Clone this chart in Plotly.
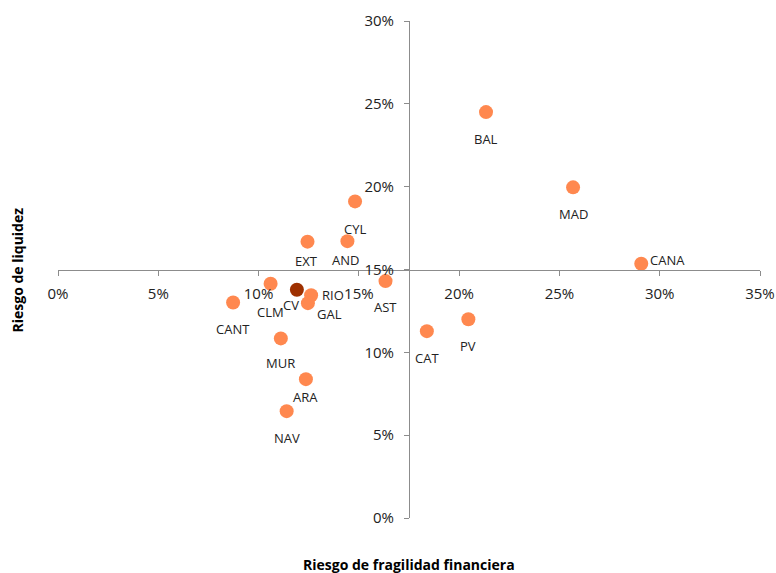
import plotly.graph_objects as go

regions = ["BAL", "MAD", "CANA", "CYL", "EXT", "AND", "AST", "CLM", "CV",
           "RIO", "GAL", "CANT", "CAT", "PV", "MUR", "ARA", "NAV"]
fragilidad = [21.34, 25.68, 29.08, 14.81, 12.44, 14.43, 16.33, 10.60, 11.91,
              12.62, 12.46, 8.73, 18.39, 20.46, 11.11, 12.36, 11.40]
liquidez = [24.50, 19.96, 15.35, 19.11, 16.68, 16.71, 14.30, 14.14, 13.78,
            13.45, 12.97, 13.01, 11.28, 12.00, 10.84, 8.38, 6.45]
highlight = "CV"

x_ticks = [0, 5, 10, 15, 20, 25, 30, 35]
y_ticks = [0, 5, 10, 15, 20, 25, 30]

ORANGE = "#FF884F"
DARK = "#9E3000"
FONT = "Open Sans"

# label offsets (px) relative to the point: (xshift, yshift, xanchor)
offsets = {
    "BAL": (0, -27, "center"), "MAD": (0, -27, "center"), "CANA": (7, 4, "left"),
    "CYL": (0, -28, "center"), "EXT": (-1, -19, "center"), "AND": (-2, -19, "center"),
    "AST": (0, -26, "center"), "CLM": (0, -28, "center"), "CV": (-6, -15, "center"),
    "RIO": (9, 0, "left"), "GAL": (7, -11, "left"), "CANT": (0, -27, "center"),
    "CAT": (0, -27, "center"), "PV": (0, -27, "center"), "MUR": (0, -25, "center"),
    "ARA": (0, -18, "center"), "NAV": (0, -27, "center"),
}

colors = [DARK if r == highlight else ORANGE for r in regions]

fig = go.Figure()
fig.add_trace(go.Scatter(
    x=fragilidad, y=liquidez, mode="markers",
    marker=dict(size=14, color=colors, line=dict(width=0)),
    text=regions, hoverinfo="text", showlegend=False,
))

annotations = []
for r, xv, yv in zip(regions, fragilidad, liquidez):
    dx, dy, xa = offsets[r]
    annotations.append(dict(
        x=xv, y=yv, xref="x", yref="y", text=r, showarrow=False,
        xshift=dx, yshift=dy, xanchor=xa, yanchor="middle",
        font=dict(family=FONT, size=13, color="#222222"),
    ))

annotations.append(dict(
    x=0.5, y=-0.093, xref="paper", yref="paper", text="<b>Riesgo de fragilidad financiera</b>",
    showarrow=False, xanchor="center", yanchor="middle",
    font=dict(family=FONT, size=14, color="#000000"),
))
annotations.append(dict(
    x=-0.057, y=0.5, xref="paper", yref="paper", text="<b>Riesgo de liquidez</b>",
    showarrow=False, xanchor="center", yanchor="middle", textangle=-90,
    font=dict(family=FONT, size=14, color="#000000"),
))

axis_common = dict(
    showgrid=False, zeroline=False, showline=True, linecolor="#8C8C8C", linewidth=1,
    ticks="outside", ticklen=5, tickcolor="#8C8C8C", tickwidth=1,
    tickfont=dict(family=FONT, size=15, color="#222222"),
    anchor="free", position=0.5, automargin=False, ticklabeloverflow="allow",
)

fig.update_layout(
    width=776, height=573,
    margin=dict(l=58, r=16, t=21, b=55),
    plot_bgcolor="white", paper_bgcolor="white",
    xaxis=dict(range=[0, 35], tickvals=x_ticks, ticktext=[f"{v}%" for v in x_ticks],
               ticklabelstandoff=5, **axis_common),
    yaxis=dict(range=[0, 30], tickvals=y_ticks, ticktext=[f"{v}%" for v in y_ticks],
               ticklabelstandoff=7, **axis_common),
    annotations=annotations,
)

fig.write_html("out.html", config={"displayModeBar": False},
               post_script="document.body.style.margin='0';")
